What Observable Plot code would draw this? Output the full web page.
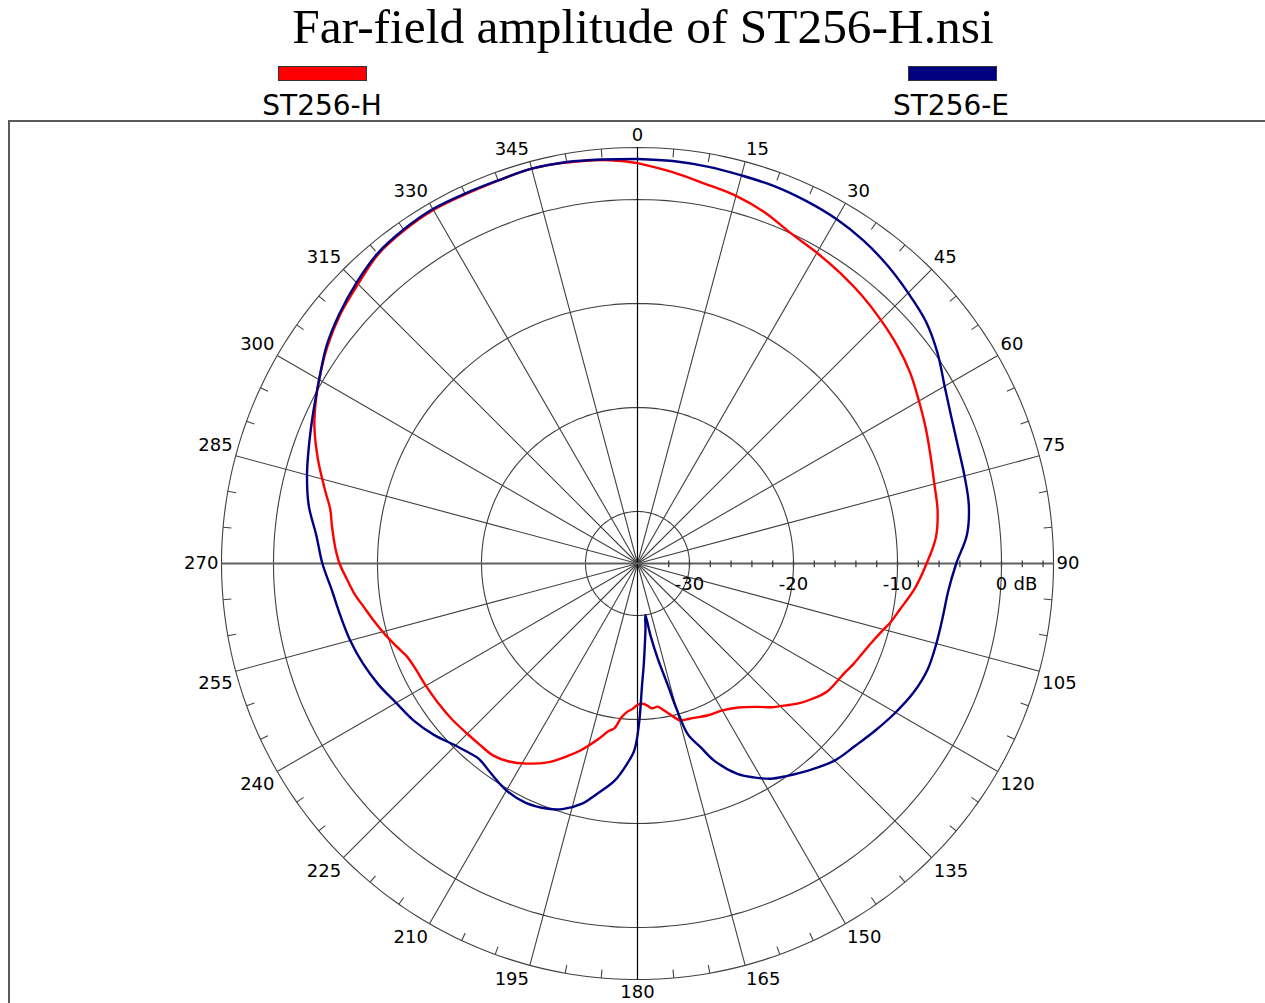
<!DOCTYPE html>
<html>
<head>
<meta charset="utf-8">
<script src="https://cdn.jsdelivr.net/npm/d3@7"></script>
<script src="https://cdn.jsdelivr.net/npm/@observablehq/plot@0.6"></script>
<style>
  html, body { margin:0; padding:0; background:#fff; overflow:hidden; }
  body { width:1265px; height:1003px; position:relative; }
  .title { position:absolute; top:0; left:643px; transform:translateX(-50%); white-space:nowrap;
           font-family:"Liberation Serif","Times New Roman",serif; font-size:49.4px; line-height:54px; color:#000; }
  .swatch { position:absolute; top:66px; width:89px; height:15px; box-sizing:border-box; border:1px solid #333; }
  .lab { position:absolute; top:90px; transform:translateX(-50%); white-space:nowrap;
         font-family:"DejaVu Sans",sans-serif; font-size:28px; line-height:32px; color:#000; }
  .frame { position:absolute; left:8px; top:120px; width:1400px; height:1000px; border:2px solid #5a5a5a; }
  #chart { position:absolute; left:0; top:121px; }
</style>
</head>
<body>
<div class="frame"></div>
<div class="title" id="title"></div>
<div id="legend"></div>
<div id="chart"></div>
<script>
// ---------- data ----------
const chartTitle = "Far-field amplitude of ST256-H.nsi";
const seriesNames = ["ST256-H", "ST256-E"];
const seriesColors = ["#ff0000", "#000080"];

// ST256-H (red): angle (deg, clockwise from top) and amplitude (dB)
const angleH = [0,5,10,15,20,25,30,35,40,45,50,55,60,65,70,75,80,85,90,95,100,103,105,109,115,118,124,128,131,135,137,140,145,150,155,160,163,165,168,170,172,174,175,176,178,180,182,184,186,188,190,192,197,200,204,209,213,217,221,225,230,235,240,245,248,251,254,258,261,264,267,270,273,277,280,283,288,293,297,300,305,310,315,320,325,330,337,345,350,355,358,360];
const dbH    = [3.5,2.8,2.1,1.6,0.9,0.0,-0.5,-0.95,-1.4,-1.9,-2.4,-3.0,-3.75,-4.4,-5.0,-5.45,-5.7,-6.2,-7.2,-8.2,-9.4,-10.0,-10.5,-11.3,-12.1,-12.5,-13.0,-13.8,-14.5,-15.6,-16.1,-17.0,-18.1,-18.7,-18.9,-19.2,-19.3,-19.4,-20.2,-20.7,-21.1,-21.0,-21.1,-21.3,-21.5,-21.4,-21.0,-20.7,-20.1,-19.0,-18.6,-17.9,-16.2,-15.3,-14.1,-13.0,-12.3,-11.9,-11.9,-11.85,-11.7,-11.6,-11.5,-11.35,-11.1,-10.5,-9.85,-9.0,-8.35,-7.6,-7.0,-6.35,-5.9,-5.4,-5.0,-4.2,-2.7,-1.25,-0.3,0.35,1.4,2.3,3.0,3.8,4.1,4.25,4.15,4.3,4.15,3.95,3.7,3.5];

// ST256-E (blue)
const angleE = [0,5,10,15,20,25,30,35,40,45,50,55,60,65,70,75,80,85,90,95,100,105,110,115,120,125,130,135,140,145,148.2,151.5,154.6,158.8,161,163.6,164.9,166.1,168.1,169.8,171.3,173,175,176.5,177.8,179.5,181,183,186,190,193,197,200,205,210,215,219,222,225,230,235,240,245,250,255,260,265,270,275,280,285,290,295,300,305,310,315,320,325,330,335,340,345,350,355,360];
const dbE    = [3.9,3.85,3.75,3.63,3.6,3.45,3.25,2.9,2.4,1.8,1.2,0.23,-0.9,-1.7,-2.2,-2.45,-2.65,-3.2,-4.35,-5.0,-5.2,-5.25,-5.3,-5.7,-6.35,-7.05,-7.7,-8.2,-9.1,-10.05,-10.65,-11.6,-12.6,-14.7,-16.3,-17.9,-20.4,-23.1,-25.8,-28.0,-30,-28.7,-27.0,-25.2,-23.4,-19.5,-17.0,-15.7,-14.0,-12.5,-11.3,-10.3,-9.9,-9.6,-9.8,-10.4,-10.8,-10.6,-10.25,-9.4,-8.7,-8.2,-7.5,-6.9,-6.4,-6.0,-5.5,-4.7,-4.0,-2.9,-2.1,-1.4,-0.6,0.35,1.5,2.4,3.2,3.9,4.2,4.35,4.25,4.2,4.3,4.2,4.0,3.9];

// axes
const dbMin = -35, dbMax = 5;
const ringLevels = [-30, -20, -10, 0, 5];
const spokeAngles = [15,30,45,60,75,105,120,135,150,165,195,210,225,240,255,285,300,315,330,345];
const angleLabels = [0,15,30,45,60,75,90,105,120,135,150,165,180,195,210,225,240,255,270,285,300,315,330,345];
const minorAngles = d3.range(0, 360, 5).filter(a => a % 15 !== 0);
const radialTicks = [-32,-30,-28,-26,-24,-22,-20,-18,-16,-14,-12,-10,-8,-6,-4,-2,0,2,4];
const radialLabels = [-30, -20, -10, 0];
const radialUnit = "dB";

// ---------- helpers ----------
const rad = a => a * Math.PI / 180;
const px = (a, db) => (db - dbMin) * Math.sin(rad(a));
const py = (a, db) => (db - dbMin) * Math.cos(rad(a));
const R = dbMax - dbMin;

// ---------- title & legend ----------
document.getElementById("title").textContent = chartTitle;
const legendPos = [{sx: 278, lx: 322}, {sx: 908, lx: 951}];
const legend = document.getElementById("legend");
seriesNames.forEach((name, i) => {
  const s = document.createElement("div");
  s.className = "swatch"; s.style.left = legendPos[i].sx + "px"; s.style.background = seriesColors[i];
  legend.appendChild(s);
  const l = document.createElement("div");
  l.className = "lab"; l.style.left = legendPos[i].lx + "px"; l.textContent = name;
  legend.appendChild(l);
});

// ---------- data tables ----------
const curves = [
  ...angleH.map((a, i) => ({a, db: dbH[i], s: seriesNames[0]})),
  ...angleE.map((a, i) => ({a, db: dbE[i], s: seriesNames[1]}))
];
const ringPts = ringLevels.flatMap(l => d3.range(0, 361, 2).map(a => ({l, a})));

const cx = 637, cy = 442, rpx = 416;
const grid = "#404040";
const font = "DejaVu Sans";
const lr = dbMax + 0.3;

const labelGroup = (filter, textAnchor, lineAnchor, dy) =>
  Plot.text(angleLabels.filter(filter), {
    x: a => px(a, lr), y: a => py(a, lr), text: a => String(a),
    textAnchor, lineAnchor, dy, fontSize: 18, fill: "#000"
  });

const chart = Plot.plot({
  width: 1265, height: 882, margin: 0,
  x: {type: "linear", domain: [-R, R], range: [cx - rpx, cx + rpx], axis: null},
  y: {type: "linear", domain: [-R, R], range: [cy + rpx, cy - rpx], axis: null},
  style: {background: "transparent", fontFamily: font, overflow: "visible"},
  marks: [
    // rings
    Plot.line(ringPts, {x: d => px(d.a, d.l), y: d => py(d.a, d.l), z: "l", stroke: grid, strokeWidth: 1.1, curve: "catmull-rom"}),
    // spokes
    Plot.link(spokeAngles, {x1: () => 0, y1: () => 0, x2: a => px(a, dbMax), y2: a => py(a, dbMax), stroke: grid, strokeWidth: 1.1}),
    // 0-180 vertical line
    Plot.link([0], {x1: a => px(a, dbMax), y1: a => py(a, dbMax), x2: a => px(a + 180, dbMax), y2: a => py(a + 180, dbMax), stroke: "#000", strokeWidth: 1.2}),
    // 90-270 horizontal axis line
    Plot.link([90], {x1: a => px(a, dbMax), y1: a => py(a, dbMax), x2: a => px(a + 180, dbMax), y2: a => py(a + 180, dbMax), stroke: "#606060", strokeWidth: 2}),
    // minor angle ticks
    Plot.link(minorAngles, {x1: a => px(a, dbMax), y1: a => py(a, dbMax), x2: a => px(a, dbMax - 0.8), y2: a => py(a, dbMax - 0.8), stroke: grid, strokeWidth: 1.1}),
    // radial ticks along 90 deg
    Plot.link(radialTicks, {x1: v => px(90, v), y1: () => 0.3, x2: v => px(90, v), y2: () => -0.35, stroke: "#404040", strokeWidth: 1.3}),
    // radial labels
    Plot.text(radialLabels, {x: v => px(90, v), y: () => -1.95, text: v => String(v), textAnchor: "middle", lineAnchor: "middle", fontSize: 18, fill: "#000"}),
    Plot.text([0], {x: v => px(90, v), y: () => -1.95, text: () => radialUnit, dx: 24, textAnchor: "middle", lineAnchor: "middle", fontSize: 18, fill: "#000"}),
    // angle labels
    labelGroup(a => a === 0, "middle", "bottom", -3),
    labelGroup(a => a === 180, "middle", "top", 3),
    labelGroup(a => a > 0 && a < 90, "start", "bottom", -4),
    labelGroup(a => a === 90, "start", "middle", 0),
    labelGroup(a => a > 90 && a < 180, "start", "top", 4),
    labelGroup(a => a > 180 && a < 270, "end", "top", 4),
    labelGroup(a => a === 270, "end", "middle", 0),
    labelGroup(a => a > 270, "end", "bottom", -4),
    // curves
    Plot.line(curves, {x: d => px(d.a, d.db), y: d => py(d.a, d.db), z: "s",
      stroke: d => d.s, strokeWidth: 2.4, curve: "catmull-rom", strokeLinejoin: "round"})
  ],
  color: {domain: seriesNames, range: seriesColors}
});
document.getElementById("chart").appendChild(chart);
</script>
</body>
</html>
